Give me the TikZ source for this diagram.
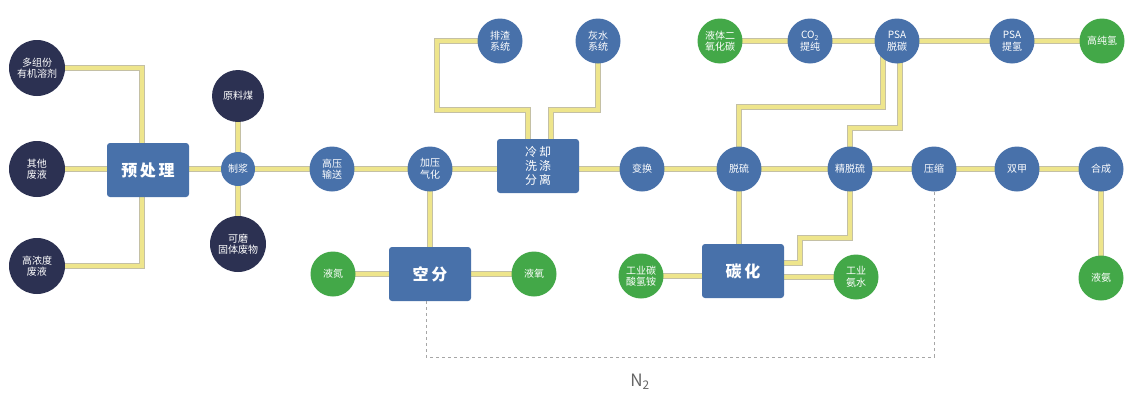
\documentclass[tikz,border=0pt]{standalone}
\usepackage{fontspec}
\setmainfont{Noto Sans CJK SC}
\usetikzlibrary{backgrounds}
\definecolor{navy}{RGB}{44,49,82}
\definecolor{steel}{RGB}{72,113,170}
\definecolor{leaf}{RGB}{67,168,72}
\definecolor{pipey}{RGB}{238,229,140}
\definecolor{pipee}{RGB}{196,192,165}
\tikzset{
  base/.style={text=white, align=center, inner sep=0pt, font=\fontsize{10}{11.5}\selectfont},
  darkc/.style={base, circle, fill=navy, minimum size=56pt},
  bluec/.style={base, circle, fill=steel, minimum size=45pt},
  greenc/.style={base, circle, fill=leaf, minimum size=45pt},
  unit/.style={base, rounded corners=3pt, fill=steel, minimum width=82pt, minimum height=54pt, font=\fontsize{16}{18}\selectfont\bfseries},
  pipe/.style={draw=pipee, line width=0.8pt, double=pipey, double distance=4pt},
  nline/.style={draw=gray!70, dashed, line width=0.8pt},
}
\begin{document}
\begin{tikzpicture}[x=1pt,y=-1pt]
\useasboundingbox (0,0) rectangle (1131,394);
% left inputs
\node[darkc] (m1) at (37,68) {多组份\\有机溶剂};
\node[darkc] (m2) at (37,169) {其他\\废液};
\node[darkc] (m3) at (37,266) {高浓度\\废液};
\node[unit] (pre) at (148,170) {预\,处\,理};
\node[darkc, minimum size=52pt] (coal) at (238,96) {原料煤};
\node[bluec, minimum size=34pt] (slurry) at (238,169) {制浆};
\node[darkc] (solid) at (238,244) {可磨\\固体废物};
% main line
\node[bluec] (hp) at (332,169) {高压\\输送};
\node[bluec] (gas) at (430,169) {加压\\气化};
\node[unit, font=\fontsize{12}{14}\selectfont] (cool) at (538,166) {冷\,却\\洗\,涤\\分\,离};
\node[bluec] (slag) at (500,41) {排渣\\系统};
\node[bluec] (grey) at (598,41) {灰水\\系统};
\node[unit] (asu) at (430,274) {空\,分};
\node[greenc] (ln2) at (333,274) {液氮};
\node[greenc] (lo2) at (534,274) {液氧};
\node[bluec] (shift) at (642,169) {变换};
\node[bluec] (ds) at (739,169) {脱硫};
\node[bluec] (fds) at (850,169) {精脱硫};
\node[bluec] (comp) at (934,169) {压缩};
\node[bluec] (dm) at (1017,169) {双甲};
\node[bluec] (syn) at (1101,169) {合成};
\node[greenc] (nh3) at (1101,278) {液氨};
\node[unit] (carb) at (743,271) {碳\,化};
\node[greenc] (abc) at (641,276) {工业碳\\酸氢铵};
\node[greenc] (aq) at (856,277) {工业\\氨水};
% top line
\node[greenc] (lco2) at (720,41) {液体二\\氧化碳};
\node[bluec] (co2p) at (810,41) {CO\textsubscript{2}\\提纯};
\node[bluec] (psa1) at (897,41) {PSA\\脱碳};
\node[bluec] (psa2) at (1012,41) {PSA\\提氢};
\node[greenc] (h2) at (1102,41) {高纯氢};
\node[text=gray!80!black, font=\fontsize{17}{19}\selectfont] (n2) at (640,382) {N\textsubscript{2}};
\begin{scope}[on background layer]
\fill[white] (0,0) rectangle (1131,394);
\draw[pipe] (m1.center) -| ([xshift=-6pt]pre.center);
\draw[pipe] (m3.center) -| ([xshift=-6pt]pre.center);
\draw[pipe] (m2.center) -- (m2.center -| pre.center);
\draw[pipe] (pre.center |- slurry.center) -- (slurry.center);
\draw[pipe] (coal.center) -- (slurry.center);
\draw[pipe] (solid.center) -- (slurry.center);
\draw[pipe] (slurry.center) -- (hp.center);
\draw[pipe] (hp.center) -- (gas.center);
\draw[pipe] (gas.center) -- (gas.center -| cool.center);
\draw[pipe] (shift.center -| cool.center) -- (shift.center);
\draw[pipe] (shift.center) -- (ds.center);
\draw[pipe] (ds.center) -- (fds.center);
\draw[pipe] (fds.center) -- (comp.center);
\draw[pipe] (comp.center) -- (dm.center);
\draw[pipe] (dm.center) -- (syn.center);
\draw[pipe] (syn.center) -- (nh3.center);
\draw[pipe] (gas.center) -- (asu.center);
\draw[pipe] (ln2.center) -- (asu.center);
\draw[pipe] (asu.center) -- (lo2.center);
\draw[pipe] ([xshift=-10pt]cool.center) |- (437,110) |- (slag.center);
\draw[pipe] ([xshift=13pt]cool.center) |- (grey.center |- 0,110) -- (grey.center);
\draw[pipe] (lco2.center) -- (co2p.center);
\draw[pipe] (co2p.center) -- (psa1.center);
\draw[pipe] (psa1.center) -- (psa2.center);
\draw[pipe] (psa2.center) -- (h2.center);
\draw[pipe] ([xshift=-14pt]psa1.center) |- (ds.center |- 0,107) -- (ds.center);
\draw[pipe] ([xshift=3pt]psa1.center) |- (fds.center |- 0,128) -- (fds.center);
\draw[pipe] (ds.center) -- (ds.center |- carb.center);
\draw[pipe] (fds.center) |- (800,238) |- (carb.center |- 0,263);
\draw[pipe] (abc.center) -- (carb.center |- abc.center);
\draw[pipe] (carb.center |- aq.center) -- (aq.center);
\end{scope}
\draw[nline] ([xshift=-4pt]asu.south) -- ++(0,56) -| (comp.south);
\end{tikzpicture}
\end{document}
